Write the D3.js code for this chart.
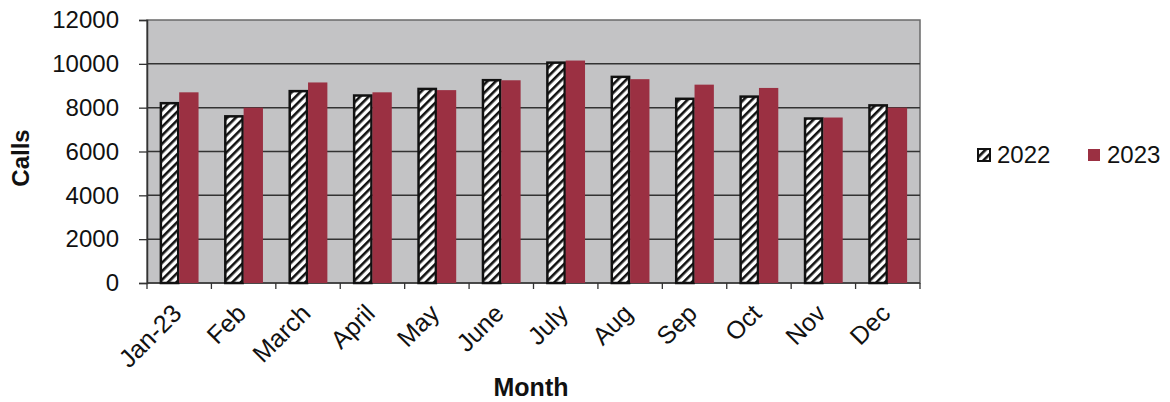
<!DOCTYPE html>
<html>
<head>
<meta charset="utf-8">
<script src="https://cdn.jsdelivr.net/npm/d3@7"></script>
<style>
  body { margin: 0; background: #fff; }
  text { font-family: "Liberation Sans", Arial, sans-serif; fill: #111; }
</style>
</head>
<body>
<script>
// data
let months = ['Jan-23', 'Feb', 'March', 'April', 'May', 'June', 'July', 'Aug', 'Sep', 'Oct', 'Nov', 'Dec'];
let series = ['2022', '2023'];
let calls2022 = [8250, 7650, 8800, 8600, 8900, 9300, 10100, 9450, 8450, 8550, 7550, 8150];
let calls2023 = [8700, 8000, 9150, 8700, 8800, 9250, 10150, 9300, 9050, 8900, 7550, 8000];
let yTicks = [0, 2000, 4000, 6000, 8000, 10000, 12000];

let width = 1170, height = 402;
let margin = { top: 20, bottom: 119, left: 147, right: 250 };

let svg = d3.select('body')
  .append('svg')
  .attr('width', width)
  .attr('height', height);

// hatch pattern for 2022
let defs = svg.append('defs');
let pat = defs.append('pattern')
  .attr('id', 'hatch')
  .attr('patternUnits', 'userSpaceOnUse')
  .attr('width', 6)
  .attr('height', 6)
  .attr('patternTransform', 'rotate(45)');
pat.append('rect').attr('width', 6).attr('height', 6).attr('fill', '#fff');
pat.append('rect').attr('width', 2.6).attr('height', 6).attr('fill', '#111');

let x0 = d3.scaleBand()
  .domain(months)
  .range([margin.left, width - margin.right])
  .paddingInner(0.4)
  .paddingOuter(0.2);

let x1 = d3.scaleBand()
  .domain(series)
  .range([0, x0.bandwidth()]);

let yScale = d3.scaleLinear()
  .domain([0, 12000])
  .range([height - margin.bottom, margin.top]);

let plotW = width - margin.right - margin.left;
let plotH = height - margin.bottom - margin.top;

// plot background
svg.append('rect')
  .attr('x', margin.left)
  .attr('y', margin.top)
  .attr('width', plotW)
  .attr('height', plotH)
  .attr('fill', '#c3c3c5')
  .attr('stroke', '#6a6a6a')
  .attr('stroke-width', 1.5);

// gridlines
svg.append('g')
  .selectAll('line')
  .data(yTicks.slice(1, -1))
  .enter()
  .append('line')
  .attr('x1', margin.left)
  .attr('x2', width - margin.right)
  .attr('y1', d => yScale(d))
  .attr('y2', d => yScale(d))
  .attr('stroke', '#333')
  .attr('stroke-width', 1.5);

// y axis
let yAxis = svg.append('g')
  .attr('transform', `translate(${margin.left},0)`)
  .call(d3.axisLeft(yScale).tickValues(yTicks).tickSize(8).tickPadding(20).tickFormat(d3.format('d')));
yAxis.select('.domain').attr('stroke', '#333').attr('stroke-width', 1.5);
yAxis.selectAll('.tick line').attr('stroke', '#333').attr('stroke-width', 1.3);
yAxis.selectAll('text').style('font-size', '24px').attr('fill', '#111');

// x axis with ticks at category boundaries
let bounds = d3.range(months.length + 1).map(i => margin.left + i * plotW / months.length);
let xAxis = svg.append('g')
  .attr('transform', `translate(0, ${height - margin.bottom})`);
xAxis.append('line')
  .attr('x1', margin.left).attr('x2', width - margin.right)
  .attr('stroke', '#333').attr('stroke-width', 1.5);
xAxis.selectAll('.bt')
  .data(bounds)
  .enter()
  .append('line')
  .attr('class', 'bt')
  .attr('x1', d => d).attr('x2', d => d)
  .attr('y1', 0).attr('y2', 6)
  .attr('stroke', '#333').attr('stroke-width', 1.3);
xAxis.selectAll('.lbl')
  .data(months)
  .enter()
  .append('text')
  .attr('class', 'lbl')
  .attr('text-anchor', 'end')
  .attr('transform', d => `translate(${x0(d) + x0.bandwidth() / 2 + 4},${32}) rotate(-45)`)
  .style('font-size', '25px')
  .text(d => d);

// bars
let groups = svg.selectAll('.grp')
  .data(months)
  .enter()
  .append('g')
  .attr('class', 'grp')
  .attr('transform', d => `translate(${x0(d)},0)`);

groups.append('rect')
  .attr('x', x1('2022') + 1)
  .attr('y', (d, i) => yScale(calls2022[i]) + 1)
  .attr('width', x1.bandwidth() - 2)
  .attr('height', (d, i) => yScale(0) - yScale(calls2022[i]) - 1)
  .attr('fill', 'url(#hatch)')
  .attr('stroke', '#111')
  .attr('stroke-width', 2.5);

groups.append('rect')
  .attr('x', x1('2023'))
  .attr('y', (d, i) => yScale(calls2023[i]))
  .attr('width', x1.bandwidth())
  .attr('height', (d, i) => yScale(0) - yScale(calls2023[i]))
  .attr('fill', '#9b3042');

// axis titles
svg.append('text')
  .attr('transform', `translate(29, 158) rotate(-90)`)
  .attr('text-anchor', 'middle')
  .style('font-size', '24px')
  .style('font-weight', 'bold')
  .text('Calls');

svg.append('text')
  .attr('x', 531)
  .attr('y', 396)
  .attr('text-anchor', 'middle')
  .style('font-size', '25px')
  .style('font-weight', 'bold')
  .text('Month');

// legend
let legend = svg.append('g').attr('transform', 'translate(977,148)');
let legItems = legend.selectAll('g')
  .data(series)
  .enter()
  .append('g')
  .attr('transform', (d, i) => `translate(${i * 110},0)`);
legItems.append('rect')
  .attr('x', 1).attr('y', 1)
  .attr('width', 12).attr('height', 12)
  .attr('fill', d => d === '2022' ? 'url(#hatch)' : '#9b3042')
  .attr('stroke', d => d === '2022' ? '#111' : 'none')
  .attr('stroke-width', 2);
legItems.append('text')
  .attr('x', 20)
  .attr('y', 15)
  .style('font-size', '24px')
  .text(d => d);
</script>
</body>
</html>
